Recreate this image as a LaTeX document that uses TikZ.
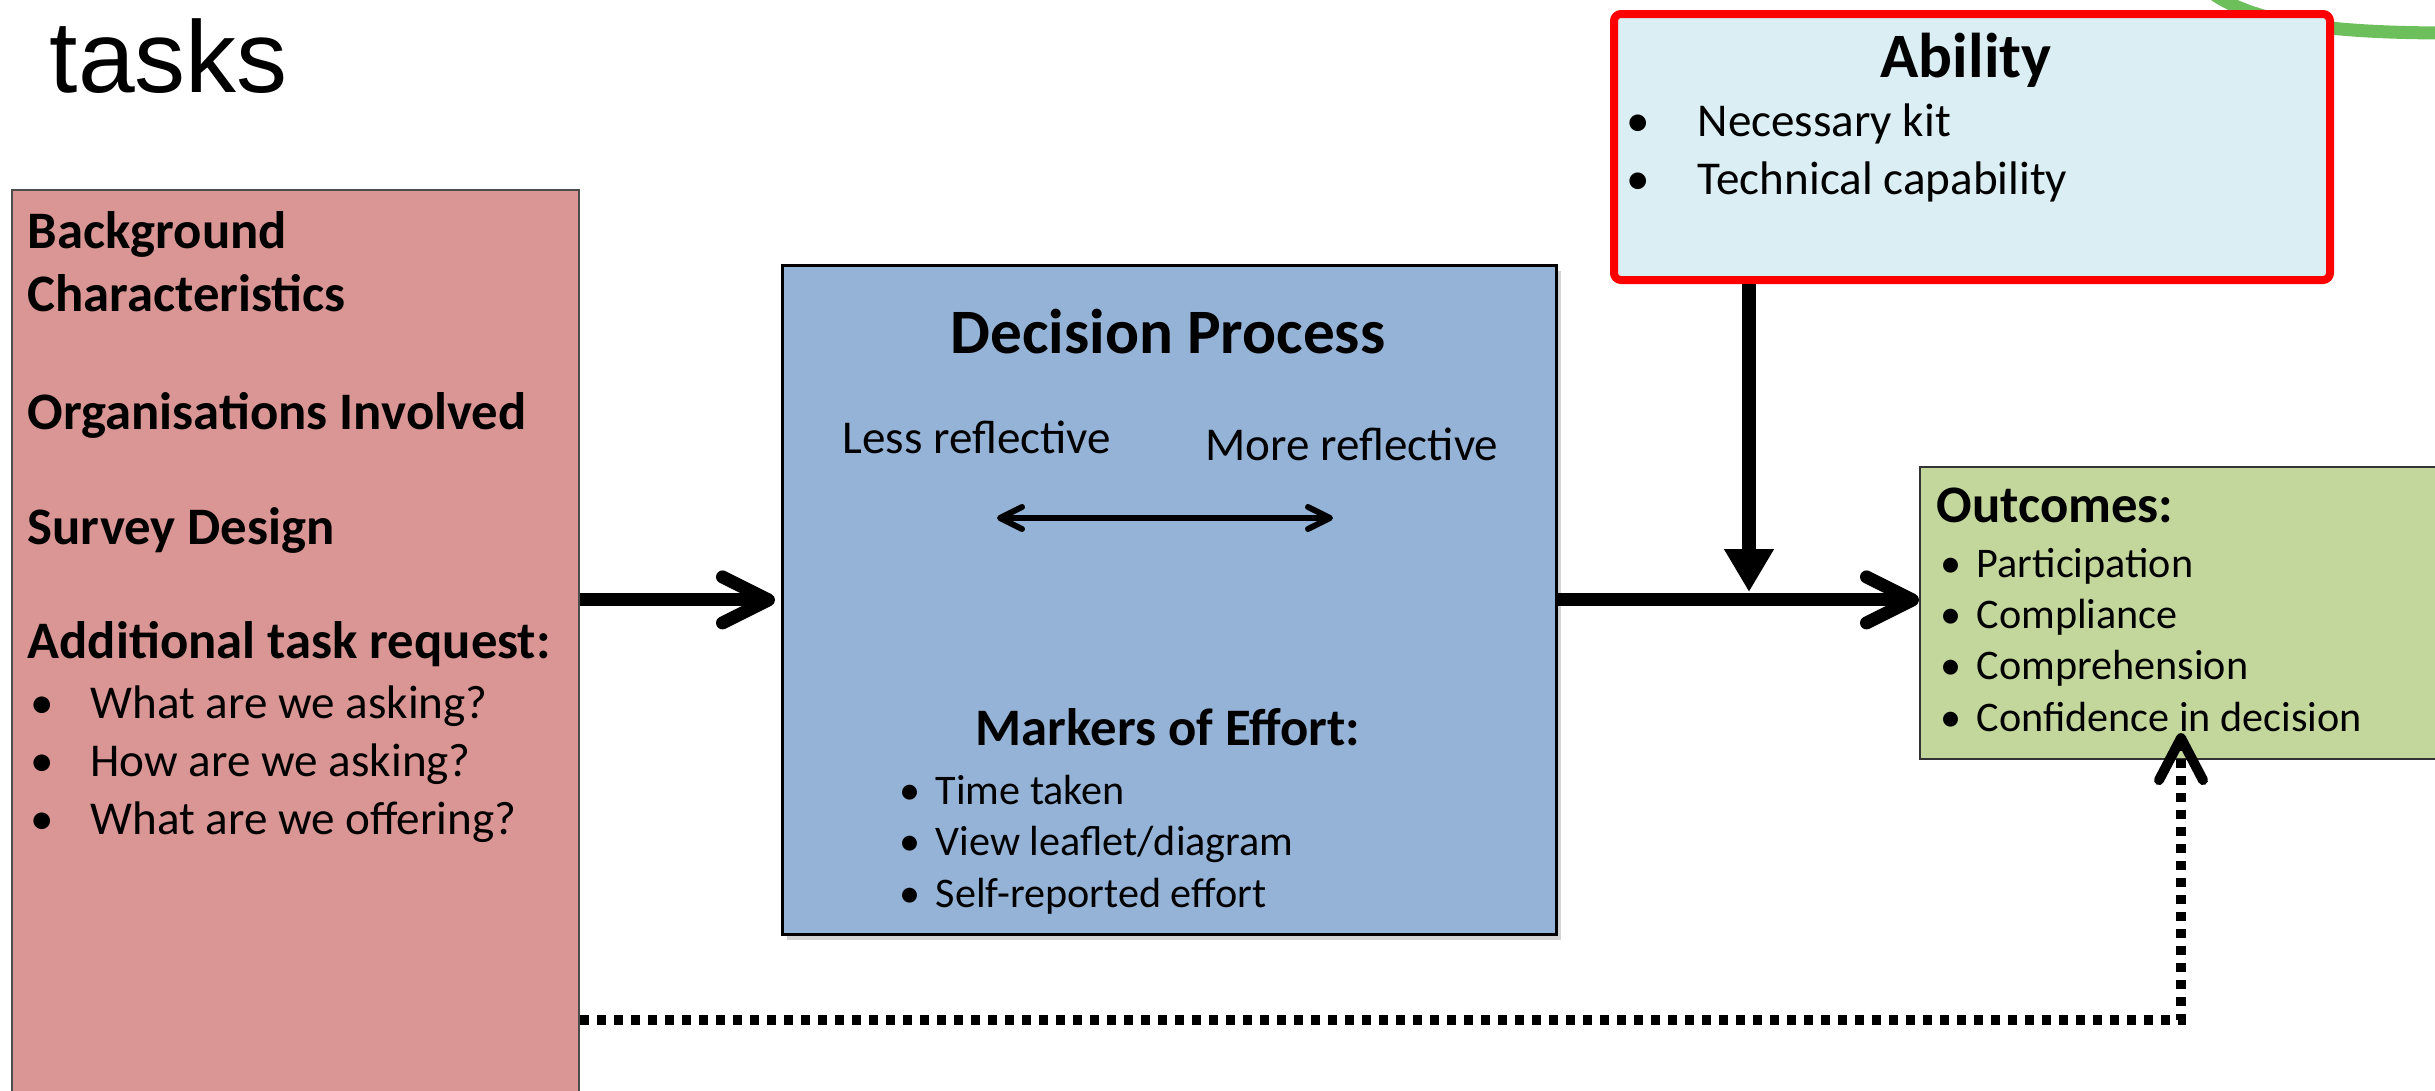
\documentclass[tikz,border=0pt]{standalone}
\usepackage{fontspec}
\setmainfont{Carlito}
\newfontfamily\arialfont{Liberation Sans}
\usetikzlibrary{calc,positioning,arrows.meta,shadows}

\definecolor{pinkfill}{HTML}{D99694}
\definecolor{bluefill}{HTML}{95B3D7}
\definecolor{abilityfill}{HTML}{DBEEF4}
\definecolor{greenfill}{HTML}{C3D69B}
\definecolor{arcgreen}{HTML}{6DBF5C}

\newcommand{\bul}[1]{\makebox[#1][l]{\textbullet}}

\tikzset{
  box/.style={anchor=north west, inner sep=0pt},
  txt/.style={anchor=base west, inner sep=0pt, align=left},
  head/.style={font=\bfseries\fontsize{15}{17.9}\selectfont},
  bighead/.style={font=\bfseries\fontsize{18}{21}\selectfont, anchor=base, inner sep=0pt},
  bodytxt/.style={font=\fontsize{13.4}{16.5}\selectfont},
  smalltxt/.style={font=\fontsize{12}{14.6}\selectfont},
  bigarrow/.style={line width=0.13cm, -{Straight Barb[length=4.6mm, width=4.6mm, round]}},
  downarrow/.style={line width=0.14cm, -{Triangle[length=4.3mm, width=4.7mm]}},
  dotarrow/.style={line width=0.1cm, dash pattern=on 0.09cm off 0.08cm,
    -{Straight Barb[length=4.2mm, width=4.4mm, round]}},
  twoway/.style={line width=0.06cm, {Straight Barb[length=2.2mm, width=2.2mm, round]}-{Straight Barb[length=2.2mm, width=2.2mm, round]}}
}

\begin{document}
\begin{tikzpicture}
\useasboundingbox (0,0) rectangle (24.35,-10.91);
\clip (0,0) rectangle (24.35,-10.91);

\node[txt, font=\arialfont\fontsize{29}{35}\selectfont] (title) at (0.49,-0.93) {tasks};

% green curve, mostly hidden under the ability box
\draw[arcgreen, line width=0.13cm] (22.15,0.05) .. controls (22.6,-0.25) and (23.4,-0.33) .. (24.5,-0.33);

% boxes
\node[box, draw=black!70, line width=0.5pt, fill=pinkfill, minimum width=5.67cm, minimum height=9.7cm] (pink) at (0.11,-1.89) {};
\node[box, draw=black, line width=0.8pt, fill=bluefill, minimum width=7.74cm, minimum height=6.69cm,
  drop shadow={shadow xshift=0.05cm, shadow yshift=-0.06cm, opacity=0.35}] (blue) at (7.81,-2.64) {};
\node[box, draw=red, line width=0.08cm, rounded corners=2pt, fill=abilityfill, minimum width=7.16cm, minimum height=2.66cm] (ability) at (16.10,-0.10) {};
\node[box, draw=black!80, line width=0.6pt, fill=greenfill, minimum width=6cm, minimum height=2.92cm] (green) at (19.19,-4.66) {};

% pink box text (multi-line nodes sit on their last baseline)
\node[txt, head] (bgchar) at (0.27,-3.11) {Background\\Characteristics};
\node[txt, head] (orgs) at (0.27,-4.29) {Organisations Involved};
\node[txt, head] (survey) at (0.27,-5.44) {Survey Design};
\node[txt, head] (addreq) at (0.27,-6.58) {Additional task request:};
\node[txt, bodytxt] (reqlist) at (0.30,-8.34) {\bul{0.6cm}What are we asking?\\\bul{0.6cm}How are we asking?\\\bul{0.6cm}What are we offering?};

% decision process
\node[bighead] (dechead) at (11.68,-3.54) {Decision Process};
\node[txt, bodytxt] (less) at (8.42,-4.53) {Less reflective};
\node[txt, bodytxt] (more) at (12.05,-4.60) {More reflective};
\coordinate (lessend) at (9.97,-5.18);
\coordinate (moreend) at (13.33,-5.18);
\draw[twoway] (lessend) -- (moreend);
\node[head, anchor=base, inner sep=0pt] (markhead) at (11.68,-7.45) {Markers of Effort:};
\node[txt, smalltxt] (marklist) at (8.99,-9.07) {\bul{0.36cm}Time taken\\\bul{0.36cm}View leaflet/diagram\\\bul{0.36cm}Self-reported effort};

% ability
\node[bighead] (abhead) at (19.66,-0.78) {Ability};
\node[txt, bodytxt] (ablist) at (16.26,-1.94) {\bul{0.71cm}Necessary kit\\\bul{0.71cm}Technical capability};

% outcomes
\node[txt, head] (outhead) at (19.36,-5.22) {Outcomes:};
\node[txt, smalltxt] (outlist) at (19.40,-7.31) {\bul{0.36cm}Participation\\\bul{0.36cm}Compliance\\\bul{0.36cm}Comprehension\\\bul{0.36cm}Confidence in decision};

% connectors
\coordinate (meet) at (17.49,-5.98);
\coordinate (corner) at (21.81,-10.20);
\draw[bigarrow, shorten >=0.06cm] (pink.east |- blue.west) -- (blue.west);
\draw[bigarrow] (blue.east) -- (green.west |- blue.east);
\draw[downarrow, shorten >=0.06cm] (meet |- ability.south) -- (meet);
\draw[dotarrow, shorten >=-0.27cm] (pink.east |- corner) -- (corner) -- (corner |- green.south);
\end{tikzpicture}
\end{document}
